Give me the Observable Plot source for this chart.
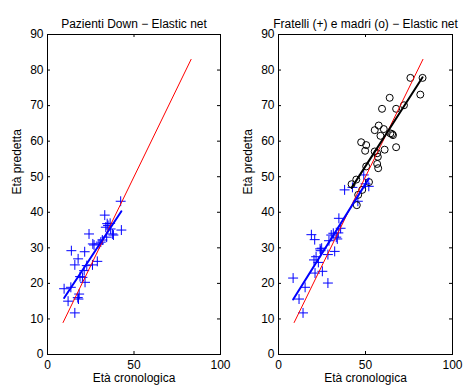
<!DOCTYPE html>
<html>
<head>
<meta charset="utf-8">
<script src="https://cdn.jsdelivr.net/npm/d3@7"></script>
<script src="https://cdn.jsdelivr.net/npm/@observablehq/plot@0.6"></script>
<style>
  body { margin: 0; background: #fff; }
  #wrap { width: 464px; height: 387px; display: flex; }
</style>
</head>
<body>
<div id="wrap"></div>
<script>
// Down syndrome patients: chronological vs predicted age
const patientsAge  = [9.6, 13.5, 11.9, 13.8, 15.8, 17.7, 15.8, 17.9, 18.3, 18.8, 20.2, 21.5, 21.7, 21.2, 24.0, 22.7, 26.0, 26.9, 28.8, 29.8, 30.8, 31.7, 33.1, 33.7, 34.2, 35.0, 36.2, 37.5, 38.1, 36.5, 42.3, 42.7, 17.5, 26.2, 34.5];
const patientsPred = [18.5, 18.9, 15.0, 29.2, 25.2, 26.9, 11.7, 15.6, 17.0, 21.9, 21.7, 28.9, 20.3, 23.6, 33.9, 25.0, 25.2, 30.8, 26.2, 31.1, 31.6, 32.2, 39.2, 35.8, 33.0, 36.3, 36.9, 33.9, 33.6, 35.3, 43.1, 35.0, 16.0, 31.1, 36.8];

// Siblings (+)
const siblingsAge  = [8.4, 11.8, 15.3, 14.1, 18.9, 20.8, 20.4, 21.6, 21.0, 22.9, 24.2, 24.8, 25.2, 28.4, 28.4, 29.0, 30.3, 31.5, 32.3, 33.2, 34.4, 34.7, 35.7, 38.0, 45.6, 51.9, 49.0, 50.0, 42.5, 23.9, 33.8];
const siblingsPred = [21.5, 15.6, 18.9, 11.7, 33.7, 32.3, 26.6, 27.5, 22.9, 25.9, 29.2, 29.9, 23.4, 20.1, 28.1, 32.0, 33.6, 34.1, 29.0, 33.0, 34.2, 38.3, 35.5, 46.3, 43.1, 47.3, 50.5, 48.0, 47.0, 29.7, 32.5];

// Mothers (o)
const mothersAge  = [42.0, 44.7, 45.8, 48.1, 45.0, 52.0, 47.5, 50.4, 49.8, 50.4, 55.3, 56.7, 57.1, 56.7, 57.3, 55.3, 57.6, 58.6, 60.5, 61.0, 59.5, 63.9, 64.3, 65.3, 65.8, 67.6, 67.6, 72.1, 75.8, 82.8, 81.5];
const mothersPred = [47.9, 49.2, 44.9, 46.3, 42.0, 48.5, 59.7, 58.9, 57.3, 52.9, 57.1, 56.6, 55.6, 53.6, 52.4, 63.1, 64.4, 61.5, 63.4, 57.6, 69.1, 72.2, 62.2, 62.0, 61.7, 69.1, 58.3, 70.1, 77.8, 77.8, 73.1];

// Ideal prediction line (predicted = chronological)
const identitySpan = [9, 83];

const xTicks = [0, 50, 100];
const yTicks = [0, 10, 20, 30, 40, 50, 60, 70, 80, 90];

const font = "'Liberation Sans', Arial, Helvetica, sans-serif";
const FS = 12;
const W = 232, H = 387, MT = 34, MB = 33, MR = 12;
const TICK = 3;

function rows(xs, ys) { return xs.map((x, i) => ({x, y: ys[i]})); }

function panel({title, marginLeft, layers}) {
  const fw = W - marginLeft - MR, fh = H - MT - MB;
  return Plot.plot({
    width: W, height: H,
    marginLeft, marginRight: MR, marginTop: MT, marginBottom: MB,
    style: {fontFamily: font, fontSize: FS + "px", color: "#000", background: "#fff", overflow: "visible"},
    x: {domain: [0, 100]},
    y: {domain: [0, 90]},
    marks: [
      ...layers,
      Plot.frame({stroke: "#000", strokeWidth: 1}),
      Plot.axisX(xTicks, {tickSize: 0, tickPadding: 6, label: null, fontSize: FS}),
      Plot.axisY(yTicks, {tickSize: 0, tickPadding: 4, label: null, fontSize: FS}),
      // inward ticks on all four sides
      Plot.tickX(xTicks, {x: d => d, insetTop: fh - TICK, stroke: "#000"}),
      Plot.tickX(xTicks, {x: d => d, insetBottom: fh - TICK, stroke: "#000"}),
      Plot.tickY(yTicks, {y: d => d, insetRight: fw - TICK, stroke: "#000"}),
      Plot.tickY(yTicks, {y: d => d, insetLeft: fw - TICK, stroke: "#000"}),
      Plot.text([title], {text: d => d, frameAnchor: "top", dy: -15, fontSize: FS, fill: "#000"}),
      Plot.text(["Età cronologica"], {text: d => d, frameAnchor: "bottom", dy: 27, fontSize: FS, fill: "#000"}),
      Plot.text(["Età predetta"], {text: d => d, frameAnchor: "left", dx: -30, rotate: -90, fontSize: FS, fill: "#000"})
    ]
  });
}

const identity = Plot.line(identitySpan, {x: d => d, y: d => d, stroke: "#ff0000", strokeWidth: 1});

const patients = rows(patientsAge, patientsPred);
const siblings = rows(siblingsAge, siblingsPred);
const mothers = rows(mothersAge, mothersPred);

const left = panel({
  title: "Pazienti Down − Elastic net",
  marginLeft: 47,
  layers: [
    Plot.dot(patients, {x: "x", y: "y", symbol: "plus", stroke: "#0000ff", r: 3.3, strokeWidth: 1}),
    identity,
    Plot.linearRegressionY(patients, {x: "x", y: "y", ci: 0, stroke: "#0000ff", strokeWidth: 2})
  ]
});

const right = panel({
  title: "Fratelli (+) e madri (o) − Elastic net",
  marginLeft: 46,
  layers: [
    Plot.dot(siblings, {x: "x", y: "y", symbol: "plus", stroke: "#0000ff", r: 3.3, strokeWidth: 1}),
    Plot.dot(mothers, {x: "x", y: "y", symbol: "circle", stroke: "#000", fill: "none", r: 3.5, strokeWidth: 1}),
    identity,
    Plot.linearRegressionY(siblings, {x: "x", y: "y", ci: 0, stroke: "#0000ff", strokeWidth: 2}),
    Plot.linearRegressionY(mothers, {x: "x", y: "y", ci: 0, stroke: "#000", strokeWidth: 2})
  ]
});

document.getElementById("wrap").append(left, right);
</script>
</body>
</html>
